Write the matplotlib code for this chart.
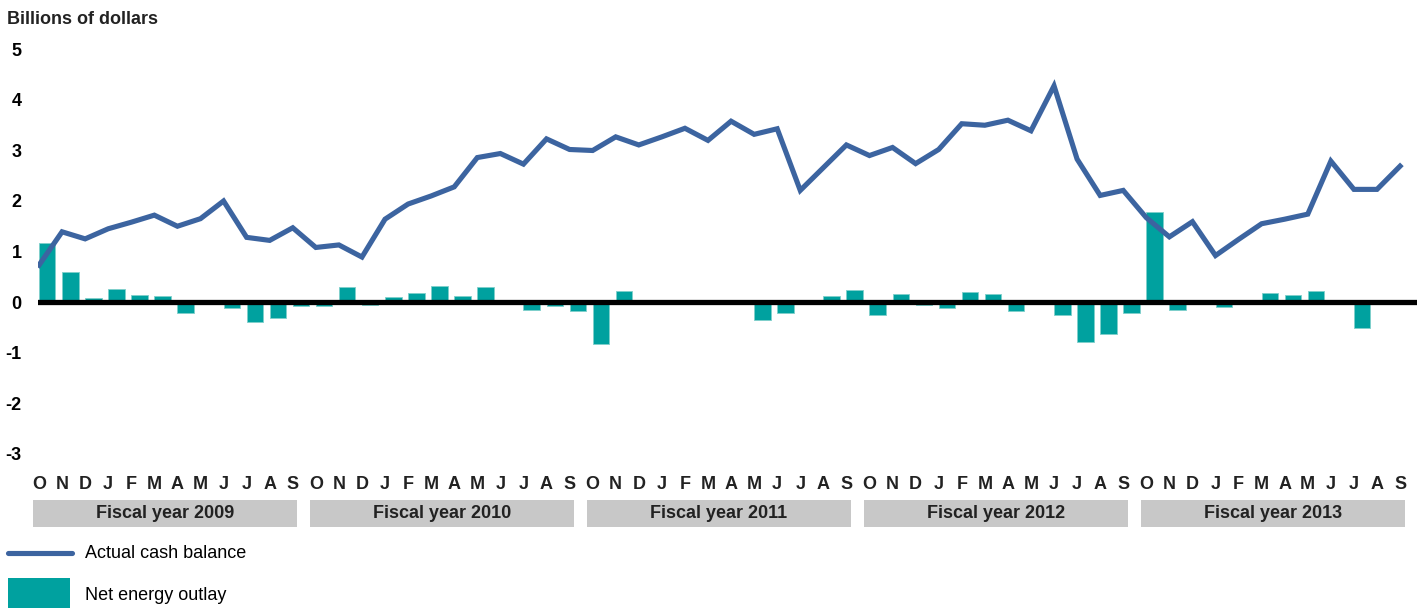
import matplotlib
matplotlib.use("Agg")
import matplotlib.pyplot as plt
from matplotlib.patches import Rectangle
from matplotlib.lines import Line2D
import numpy as np

plt.rcParams['font.family'] = ['Liberation Sans', 'DejaVu Sans']

MONTHS = ['O', 'N', 'D', 'J', 'F', 'M', 'A', 'M', 'J', 'J', 'A', 'S'] * 5
FISCAL_YEARS = ['Fiscal year 2009', 'Fiscal year 2010', 'Fiscal year 2011',
                'Fiscal year 2012', 'Fiscal year 2013']

# actual cash balance, billions of dollars (Oct 2008 - Sep 2013)
cash_balance = [0.73, 1.39, 1.25, 1.45, 1.58, 1.72, 1.50, 1.65, 2.00, 1.28, 1.22, 1.47,
                1.08, 1.13, 0.89, 1.64, 1.94, 2.10, 2.28, 2.86, 2.94, 2.73, 3.23, 3.02,
                3.00, 3.27, 3.11, 3.27, 3.44, 3.20, 3.58, 3.32, 3.43, 2.21, 2.66, 3.11,
                2.90, 3.06, 2.74, 3.02, 3.53, 3.50, 3.60, 3.39, 4.28, 2.83, 2.11, 2.21,
                1.67, 1.29, 1.59, 0.92, 1.24, 1.55, 1.64, 1.74, 2.79, 2.23, 2.23, 2.69]

# net energy outlay, billions of dollars
energy_outlay = [1.16, 0.60, 0.07, 0.25, 0.14, 0.11, -0.22, 0.00, -0.11, -0.40, -0.31, -0.08,
                 -0.08, 0.30, -0.05, 0.10, 0.17, 0.32, 0.11, 0.30, 0.00, -0.15, -0.07, -0.17,
                 -0.84, 0.21, 0.00, 0.00, 0.00, 0.00, 0.00, -0.36, -0.21, -0.03, 0.12, 0.24,
                 -0.25, 0.16, -0.05, -0.11, 0.20, 0.15, -0.18, 0.00, -0.26, -0.79, -0.64, -0.21,
                 1.78, -0.15, 0.02, -0.10, 0.00, 0.18, 0.14, 0.22, 0.00, -0.51, 0.00, 0.00]

LINE_COLOR = '#3C64A0'
BAR_COLOR = '#00A19F'

fig = plt.figure(figsize=(14.26, 6.08), dpi=100)
ax = fig.add_axes([0.02654, 0.2541, 0.9674, 0.6645])

x = np.arange(len(cash_balance))
ax.bar(x, energy_outlay, width=0.715, align='edge', color=BAR_COLOR,
       edgecolor='#7FCFCB', linewidth=0.6, zorder=2, label='Net energy outlay')
ax.axhline(0, color='black', linewidth=3.8, zorder=3)
ax.plot(x, cash_balance, color=LINE_COLOR, linewidth=3.7, zorder=4,
        solid_joinstyle='miter', label='Actual cash balance')

ax.set_xlim(-0.05, 59.75)
ax.set_ylim(-3, 5)
ax.set_yticks(range(-3, 6))
ax.set_yticklabels([str(v) for v in range(-3, 6)], fontsize=13, fontweight='bold')
ax.set_xticks(x)
ax.set_xticklabels(MONTHS, fontsize=13, fontweight='bold', color='#222222')
ax.tick_params(axis='y', length=0, pad=11.5)
ax.tick_params(axis='x', length=0, pad=16.5)
for s in ax.spines.values():
    s.set_visible(False)

# fiscal year bands under the month labels
trans = ax.get_xaxis_transform()
for k, name in enumerate(FISCAL_YEARS):
    x0 = 12 * k - 0.25
    ax.add_patch(Rectangle((x0, -0.1819), 11.45, 0.0668, transform=trans,
                           facecolor='#C8C8C8', edgecolor='none', clip_on=False))
    ax.text(x0 + 11.45 / 2, -0.1485, name, transform=trans, ha='center', va='center',
            fontsize=13, fontweight='bold', color='#222222')

fig.text(7 / 1426, 1 - 24 / 608, 'Billions of dollars', fontsize=13, fontweight='bold',
         va='baseline', ha='left', color='#222222')

# legend drawn in figure space
fig.add_artist(Line2D([8 / 1426, 72 / 1426], [1 - 553 / 608] * 2, color=LINE_COLOR,
                      linewidth=3.7, solid_capstyle='round', transform=fig.transFigure))
fig.text(85 / 1426, 1 - 553 / 608, 'Actual cash balance', fontsize=13, va='center', ha='left')
fig.add_artist(Rectangle((8 / 1426, 0), 62 / 1426, 30 / 608, facecolor=BAR_COLOR,
                         edgecolor='none', transform=fig.transFigure))
fig.text(85 / 1426, 1 - 595 / 608, 'Net energy outlay', fontsize=13, va='center', ha='left')

fig.savefig('out.png', dpi=100)
